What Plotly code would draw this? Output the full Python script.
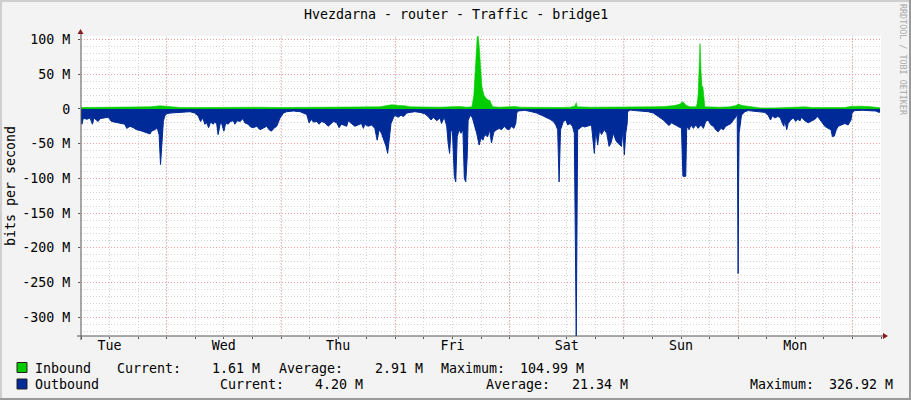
import pandas as pd
import plotly.graph_objects as go

TITLE = "Hvezdarna - router - Traffic - bridge1"
START = pd.Timestamp("2023-01-03 06:00")   # a Tuesday morning, one week shown
SPAN_H = 168
DAYS = ["Tue", "Wed", "Thu", "Fri", "Sat", "Sun", "Mon"]

# Inbound traffic (Mbit/s), hours since START
in_hours = [0.0, 4.0, 8.2, 12.4, 14.5, 16.6, 17.9, 19.1, 20.8, 25.0, 29.2, 33.4, 37.6, 41.8,
            46.0, 50.2, 54.4, 56.5, 58.6, 60.7, 62.8, 64.3, 65.3, 66.6, 68.0, 69.1, 71.2,
            73.3, 75.4, 77.5, 79.6, 80.9, 82.1, 82.5, 82.7, 83.0, 83.2, 83.4, 83.6, 83.8,
            84.0, 84.2, 84.6, 85.1, 85.5, 85.9, 86.1, 86.5, 88.0, 90.1, 91.1, 92.2, 96.4,
            100.6, 102.7, 103.7, 104.0, 104.2, 106.9, 111.1, 113.2, 115.3, 117.4, 120.5,
            122.6, 124.7, 125.8, 126.4, 127.1, 127.9, 129.2, 129.4, 129.6, 129.8, 130.0,
            130.2, 130.4, 130.6, 130.8, 131.0, 134.2, 136.3, 137.6, 138.0, 138.8, 140.1,
            141.5, 142.6, 145.7, 148.9, 152.0, 153.5, 155.2, 157.3, 159.4, 160.4, 161.5,
            162.5, 163.6, 165.3, 166.7, 167.8]
in_mbps = [2, 2.5, 2, 2.5, 3, 4.5, 4, 3, 2, 2, 2.5, 3, 2.5, 2,
           2, 2.5, 2.5, 2, 2, 2.5, 3, 5, 6, 5, 4.5, 3, 2.5,
           2, 2.5, 3, 3.5, 2.5, 3, 20, 51, 80, 104, 104.99, 92, 75,
           47, 32, 20, 15, 13, 12, 8, 3, 2.5, 3, 3.5, 2.5, 2,
           2, 2.5, 4, 9, 3, 2.5, 2.5, 3, 2, 2, 3,
           3.5, 5, 7, 10.5, 5, 3, 3, 8, 20, 60, 94,
           55, 32, 32, 10, 3, 2.5, 3, 5, 7, 5, 4,
           3, 1.5, 1.5, 2, 3, 2, 2, 2, 3, 2, 3.5,
           4, 4, 3.5, 2.5, 1.61]

# Outbound traffic (Mbit/s, drawn negative), hours since START
out_hours = [0.0, 0.2, 0.5, 1.2, 1.9, 2.4, 2.7, 3.6, 4.0, 4.7, 5.7, 6.4, 7.1, 7.8, 8.5, 9.2,
             9.6, 10.3, 11.0, 11.7, 12.4, 13.1, 13.8, 14.5, 14.8, 15.2, 15.5, 16.0, 16.4,
             16.7, 17.0, 17.3, 17.6, 18.0, 18.7, 20.1, 21.5, 22.9, 23.9, 24.6, 25.1, 25.6,
             26.0, 26.4, 26.8, 27.2, 27.8, 28.1, 28.5, 28.8, 29.2, 29.5, 30.0, 30.4, 30.9,
             31.4, 32.0, 32.3, 32.8, 33.4, 34.0, 34.4, 35.1, 35.6, 36.2, 36.9, 37.6, 38.3,
             39.0, 39.5, 40.0, 40.5, 41.1, 41.8, 42.5, 43.2, 44.6, 46.0, 47.4, 47.9, 48.4,
             48.8, 49.5, 50.0, 50.5, 51.2, 51.9, 52.4, 53.0, 53.7, 54.2, 54.7, 55.4, 55.8,
             56.1, 56.8, 57.5, 58.2, 58.9, 59.3, 59.6, 60.3, 61.0, 61.7, 62.2, 62.6, 63.1,
             63.6, 64.0, 64.4, 64.7, 65.1, 65.6, 65.9, 66.6, 67.2, 67.7, 68.4, 69.1, 70.1,
             71.2, 72.2, 72.9, 73.5, 74.0, 74.7, 75.4, 75.7, 76.3, 76.8, 77.1, 77.4, 77.7,
             78.0, 78.4, 78.7, 79.0, 79.4, 79.8, 80.2, 80.5, 80.8, 81.1, 81.3, 81.8, 82.2,
             82.6, 83.1, 83.6, 84.0, 84.4, 84.8, 85.4, 85.8, 86.2, 86.7, 87.3, 87.8, 88.3,
             88.9, 89.4, 89.9, 90.4, 90.9, 91.3, 91.5, 91.8, 93.2, 94.6, 95.7, 96.7, 97.8,
             98.5, 99.2, 99.7, 100.1, 100.4, 100.7, 101.3, 101.8, 102.2, 102.7, 103.2, 103.6,
             104.0, 104.3, 104.8, 105.3, 105.8, 106.5, 107.2, 107.8, 108.1, 108.5, 108.9,
             109.3, 109.9, 110.4, 110.9, 111.3, 111.8, 112.3, 112.7, 113.2, 113.5, 113.8,
             114.1, 114.4, 114.7, 114.8, 115.3, 116.3, 117.7, 119.1, 120.2, 120.9, 121.6,
             122.3, 123.0, 123.5, 124.0, 124.7, 125.4, 126.1, 126.4, 127.0, 127.2, 127.7,
             128.1, 128.6, 129.1, 129.6, 130.2, 130.7, 131.2, 131.7, 132.3, 132.8, 133.3,
             133.8, 134.4, 134.9, 135.4, 135.9, 136.5, 137.0, 137.5, 137.8, 138.0, 138.1,
             138.2, 138.7, 139.4, 140.1, 141.2, 142.2, 143.6, 144.3, 144.8, 145.2, 145.7,
             146.3, 146.8, 147.3, 147.6, 147.8, 148.2, 148.5, 149.0, 149.6, 150.1, 150.5,
             151.0, 151.3, 152.0, 152.7, 153.4, 154.1, 154.7, 155.2, 155.7, 156.2, 156.9,
             157.5, 157.8, 158.2, 158.6, 159.0, 159.7, 160.4, 161.1, 161.7, 161.9, 162.5,
             164.1, 165.5, 166.9, 167.6, 167.8]
out_mbps = [14, 22, 13, 15, 13, 22, 13, 18, 14, 13, 12, 18, 19, 20, 22, 22,
            28, 25, 27, 30, 31, 33, 35, 36, 32, 31, 30, 27, 37,
            80, 47, 18, 10, 7, 6, 5, 4, 4, 6, 10, 18, 13,
            22, 20, 27, 19, 22, 18, 22, 37, 22, 20, 32, 20, 22,
            18, 17, 22, 17, 18, 14, 20, 22, 26, 27, 25, 30, 27,
            25, 30, 32, 28, 25, 13, 6, 4, 3, 4, 8, 20, 15,
            19, 18, 22, 18, 20, 25, 22, 18, 20, 27, 22, 24, 25,
            17, 21, 25, 23, 21, 28, 22, 25, 23, 28, 45, 30, 35,
            45, 52, 64, 45, 21, 13, 9, 12, 9, 11, 6, 5, 4,
            5, 7, 11, 16, 12, 17, 13, 21, 12, 25, 49, 64, 30,
            33, 97, 105, 40, 30, 35, 30, 100, 105, 69, 16, 9, 13,
            23, 35, 52, 42, 45, 37, 40, 30, 49, 33, 30, 28, 30,
            25, 29, 30, 25, 28, 21, 6, 3, 2, 4, 6, 9, 12,
            15, 18, 23, 30, 105, 30, 18, 16, 23, 21, 25, 35,
            326.92, 30, 28, 25, 26, 24, 23, 64, 30, 52, 30,
            37, 30, 35, 54, 49, 35, 45, 49, 52, 54, 30,
            66, 35, 21, 4, 1.5, 2.4, 3, 4, 6, 9, 12,
            16, 21, 24, 20, 23, 25, 28, 97, 97, 25, 30,
            23, 28, 23, 28, 23, 28, 18, 16, 23, 25, 30,
            33, 28, 30, 25, 23, 21, 16, 12, 6, 237, 107,
            35, 9, 4, 2.4, 3, 4, 5, 9, 16, 10, 13,
            11, 12, 21, 25, 16, 30, 21, 16, 13, 18, 15,
            17, 12, 17, 20, 18, 15, 11, 16, 21, 25, 28,
            30, 40, 39, 30, 25, 23, 21, 23, 16, 6, 2.4,
            2, 2.4, 3, 5, 4.2]

Y_MAX, Y_MIN = 104.99, -326.92
y_tick_vals = [100, 50, 0, -50, -100, -150, -200, -250, -300]
y_tick_text = ["100 M", "50 M", "0", "-50 M", "-100 M", "-150 M", "-200 M", "-250 M", "-300 M"]

legend_names = ["Inbound", "Outbound"]
legend_colors = ["#00CC00", "#002A97"]
stats_in = ["1.61 M", "2.91 M", "104.99 M"]
stats_out = ["4.20 M", "21.34 M", "326.92 M"]

FONT = "DejaVu Sans Mono"
FS = 13.3

# ---------------------------------------------------------------------
in_t = START + pd.to_timedelta(in_hours, unit="h")
out_t = START + pd.to_timedelta(out_hours, unit="h")
out_neg = [-v for v in out_mbps]
end = START + pd.Timedelta(hours=SPAN_H)
day0 = START.normalize()
noon_ticks = [day0 + pd.Timedelta(days=i, hours=12) for i in range(len(DAYS))]
midnights = [day0 + pd.Timedelta(days=i) for i in range(1, 8)]

L, R, T, B = 81, 30, 36, 64
W, H = 911, 400
PW, PH = W - L - R, H - T - B


def px(x):
    return (x - L) / PW


def py(y):
    return (H - B - y) / PH


fig = go.Figure()
fig.add_trace(go.Scatter(x=in_t, y=in_mbps, mode="lines", fill="tozeroy",
                         line=dict(color=legend_colors[0], width=0.6),
                         fillcolor=legend_colors[0], name=legend_names[0]))
fig.add_trace(go.Scatter(x=out_t, y=out_neg, mode="lines", fill="tozeroy",
                         line=dict(color=legend_colors[1], width=1),
                         fillcolor=legend_colors[1], name=legend_names[1]))

GRID = "#d4d4d4"
MGRID = "#f0a0a0"
DASH = "1px,2px"

shapes = []
for m in midnights:
    shapes.append(dict(type="line", xref="x", yref="paper", x0=m, x1=m, y0=0, y1=1,
                       line=dict(color=MGRID, width=1, dash=DASH), layer="between"))
AX = "#555555"
# axis lines
shapes.append(dict(type="line", xref="paper", yref="paper", x0=0, x1=0,
                   y0=py(340), y1=py(33), line=dict(color=AX, width=1), layer="above"))
shapes.append(dict(type="line", xref="paper", yref="paper", x0=px(77), x1=px(884),
                   y0=0, y1=0, line=dict(color=AX, width=1), layer="above"))
# arrows
ARW = "#8b1a1a"
shapes.append(dict(type="path", xref="paper", yref="paper",
                   path=f"M {px(77.5)} {py(34)} L {px(83.5)} {py(34)} L {px(80.5)} {py(29)} Z",
                   fillcolor=ARW, line=dict(color=ARW, width=0), layer="above"))
shapes.append(dict(type="path", xref="paper", yref="paper",
                   path=f"M {px(883)} {py(333)} L {px(883)} {py(339)} L {px(888)} {py(336)} Z",
                   fillcolor=ARW, line=dict(color=ARW, width=0), layer="above"))
# frame
shapes.append(dict(type="line", xref="paper", yref="paper", x0=px(0), x1=px(W),
                   y0=py(1), y1=py(1), line=dict(color="#cfcfcf", width=2)))
shapes.append(dict(type="line", xref="paper", yref="paper", x0=px(1), x1=px(1),
                   y0=py(0), y1=py(H), line=dict(color="#cfcfcf", width=2)))
shapes.append(dict(type="line", xref="paper", yref="paper", x0=px(0), x1=px(W),
                   y0=py(H - 1), y1=py(H - 1), line=dict(color="#9a9a9a", width=2)))
shapes.append(dict(type="line", xref="paper", yref="paper", x0=px(W - 1), x1=px(W - 1),
                   y0=py(0), y1=py(H), line=dict(color="#9a9a9a", width=2)))
# legend swatches
for i, c in enumerate(legend_colors):
    top = 362.5 + i * 16.5
    shapes.append(dict(type="rect", xref="paper", yref="paper",
                       x0=px(17), x1=px(27), y0=py(top), y1=py(top + 10),
                       fillcolor=c, line=dict(color="#222222", width=1)))

ann = []


def txt(s, x, y, anchor="left", size=FS, color="#000000", angle=0):
    ann.append(dict(text=s, xref="paper", yref="paper", x=px(x), y=py(y),
                    xanchor=anchor, yanchor="middle", showarrow=False, textangle=angle,
                    font=dict(family=FONT, size=size, color=color), borderpad=0))


txt(TITLE, 455.5, 14, anchor="center")
txt("bits per second", 10, 186, anchor="center", angle=-90)
txt("RRDTOOL / TOBI OETIKER", 903, 60, anchor="center", size=8.4, color="#a9a9a9", angle=90)

r1, r2 = 368, 384
txt(legend_names[0], 33.5, r1)
txt("Current:", 115.5, r1)
txt(stats_in[0], 261, r1, anchor="right")
txt("Average:", 278, r1)
txt(stats_in[1], 423.5, r1, anchor="right")
txt("Maximum:", 439.5, r1)
txt(stats_in[2], 585, r1, anchor="right")
txt(legend_names[1], 33.5, r2)
txt("Current:", 218.5, r2)
txt(stats_out[0], 364, r2, anchor="right")
txt("Average:", 484.5, r2)
txt(stats_out[1], 629, r2, anchor="right")
txt("Maximum:", 748.5, r2)
txt(stats_out[2], 894, r2, anchor="right")

fig.update_layout(
    width=W, height=H,
    margin=dict(l=L, r=R, t=T, b=B, autoexpand=False),
    paper_bgcolor="#f3f3f3", plot_bgcolor="#ffffff",
    showlegend=False,
    font=dict(family=FONT, size=FS, color="#000000"),
    shapes=shapes, annotations=ann,
    xaxis=dict(type="date", range=[START, end], tickvals=noon_ticks, ticktext=DAYS,
               showgrid=True, gridcolor=GRID, griddash=DASH, gridwidth=1,
               ticks="", showline=False, zeroline=False,
               tickfont=dict(family=FONT, size=FS, color="#000000"),
               minor=dict(dtick=6 * 3600 * 1000, tick0=day0, showgrid=True,
                          gridcolor=GRID, griddash=DASH, gridwidth=1,
                          ticks="outside", ticklen=2, tickcolor=AX)),
    yaxis=dict(range=[Y_MIN, Y_MAX], tickvals=y_tick_vals, ticktext=y_tick_text,
               showgrid=True, gridcolor=MGRID, griddash=DASH, gridwidth=1,
               ticks="outside", ticklen=2, tickcolor=AX, ticklabelstandoff=5,
               showline=False, zeroline=False,
               tickfont=dict(family=FONT, size=FS, color="#000000"),
               minor=dict(dtick=10, tick0=0, showgrid=True, gridcolor=GRID,
                          griddash=DASH, gridwidth=1)),
)

fig.write_html("out.html", config={"displayModeBar": False},
               post_script="document.body.style.margin='0';")
